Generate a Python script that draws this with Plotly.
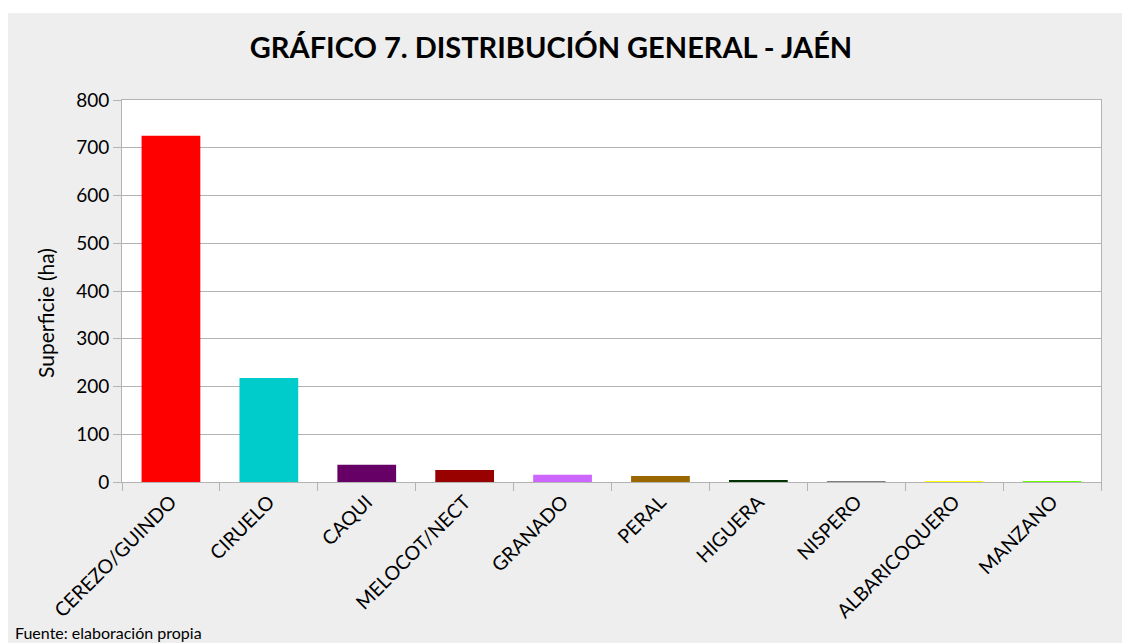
import plotly.graph_objects as go

categories = ["CEREZO/GUINDO", "CIRUELO", "CAQUI", "MELOCOT/NECT", "GRANADO",
              "PERAL", "HIGUERA", "NISPERO", "ALBARICOQUERO", "MANZANO"]
values = [725, 218, 36, 25, 15, 12.5, 4, 2, 2, 2]
colors = ["#ff0000", "#00cccc", "#660066", "#990000", "#cc66ff",
          "#996600", "#003300", "#808080", "#ffff00", "#66ff00"]
y_ticks = [0, 100, 200, 300, 400, 500, 600, 700, 800]

FONT = "Lato"
W, H = 1122, 635
L, R, T, B = 114, 29, 92, 161
pw, ph = W - L - R, H - T - B

def px_x(x):
    return (x - L) / pw

def px_y(y):
    return (H - B - y) / ph

fig = go.Figure(go.Bar(x=categories, y=values, marker=dict(color=colors, line=dict(width=0)),
                       width=0.6))

fig.update_layout(
    width=W, height=H,
    margin=dict(l=L, r=R, t=T, b=B),
    paper_bgcolor="#eeeeee",
    plot_bgcolor="#ffffff",
    showlegend=False,
    font=dict(family=FONT, color="#000000", size=19),
    title=dict(text="<b>GRÁFICO 7. DISTRIBUCIÓN GENERAL - JAÉN</b>", x=543 / W, xanchor="center",
               y=1 - 40 / H, yanchor="middle", font=dict(family=FONT, size=29, color="#000000")),
    xaxis=dict(tickangle=-45, tickson="boundaries", ticks="outside", ticklen=8, tickcolor="#b3b3b3",
               showline=True, linecolor="#b3b3b3", mirror=True, showgrid=False,
               layer="below traces", tickfont=dict(size=19.5)),
    yaxis=dict(range=[0, 800], tickvals=y_ticks, ticks="outside", ticklen=8, tickcolor="#b3b3b3",
               showline=True, linecolor="#b3b3b3", mirror=True, gridcolor="#b3b3b3",
               layer="below traces", zeroline=False, tickfont=dict(size=19)),
    shapes=[
        dict(type="rect", xref="paper", yref="paper", x0=px_x(-5), x1=px_x(W + 5), y0=px_y(5), y1=px_y(-5),
             fillcolor="#ffffff", line=dict(width=0), layer="below"),
    ],
    annotations=[
        dict(text="Superficie (ha)", xref="paper", yref="paper", x=px_x(37), y=px_y(305),
             xanchor="center", yanchor="middle", textangle=-90, showarrow=False,
             font=dict(size=21, family=FONT)),
        dict(text="Fuente: elaboración propia", xref="paper", yref="paper", x=px_x(5), y=px_y(624),
             xanchor="left", yanchor="middle", showarrow=False, font=dict(size=16, family=FONT)),
    ],
)

fig.write_html("out.html")
